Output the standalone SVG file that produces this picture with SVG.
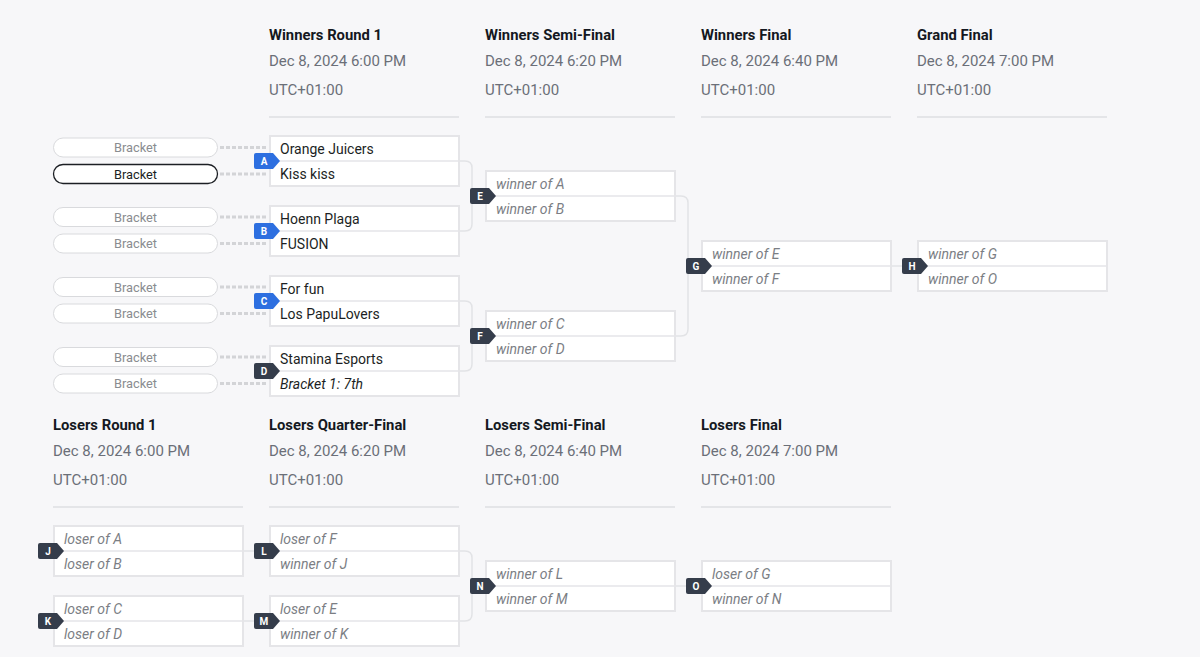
<svg xmlns="http://www.w3.org/2000/svg" xmlns:xlink="http://www.w3.org/1999/xlink" width="1200" height="657" viewBox="0 0 1200 657">
<style>
.bg{fill:#f7f7f9}
.title{font-family:Roboto,"Liberation Sans",sans-serif;font-size:14.8px;font-weight:bold;fill:#141821}
.sub{font-family:Roboto,"Liberation Sans",sans-serif;font-size:15px;fill:#6b6f78}
.hline{stroke:#dedfe2;stroke-width:1.5}
.box{fill:#ffffff;stroke:#e5e5e8;stroke-width:2}
.div{stroke:#e5e5e8;stroke-width:1.5}
.team{font-family:Roboto,"Liberation Sans",sans-serif;font-size:14px;fill:#1c1f24}
.ph{font-family:Roboto,"Liberation Sans",sans-serif;font-size:14px;font-style:italic;fill:#7b7e84}
.phd{font-family:Roboto,"Liberation Sans",sans-serif;font-size:14px;font-style:italic;fill:#1c1f24}
.bd{fill:#353d4b}
.bb{fill:#2d6fe0}
.bl{font-family:Roboto,"Liberation Sans",sans-serif;font-size:10px;font-weight:bold;fill:#ffffff;text-anchor:middle}
.pill{fill:#ffffff;stroke:#d9dadd;stroke-width:1}
.pillh{fill:#ffffff;stroke:#1c1f24;stroke-width:1.3}
.pt{font-family:Roboto,"Liberation Sans",sans-serif;font-size:12.8px;fill:#8a8c90;text-anchor:middle}
.pth{font-family:Roboto,"Liberation Sans",sans-serif;font-size:12.8px;fill:#1c1f24;text-anchor:middle}
.dash{stroke:#d3d4d7;stroke-width:3;stroke-dasharray:4 2;fill:none}
.conn{stroke:#e2e3e6;stroke-width:1.5;fill:none}
</style>
<defs>
<path id="badge" d="M2,-8 H19 L26,0 L19,8 H2 Q0,8 0,6 V-6 Q0,-8 2,-8 Z"/>
</defs>
<rect class="bg" x="0" y="0" width="1200" height="657"/>

<g id="headers">
<text class="title" x="269" y="39.5">Winners Round 1</text>
<text class="sub" x="269" y="65.5">Dec 8, 2024 6:00 PM</text>
<text class="sub" x="269" y="95">UTC+01:00</text>
<line class="hline" x1="269" y1="117" x2="459" y2="117"/>
<text class="title" x="485" y="39.5">Winners Semi-Final</text>
<text class="sub" x="485" y="65.5">Dec 8, 2024 6:20 PM</text>
<text class="sub" x="485" y="95">UTC+01:00</text>
<line class="hline" x1="485" y1="117" x2="675" y2="117"/>
<text class="title" x="701" y="39.5">Winners Final</text>
<text class="sub" x="701" y="65.5">Dec 8, 2024 6:40 PM</text>
<text class="sub" x="701" y="95">UTC+01:00</text>
<line class="hline" x1="701" y1="117" x2="891" y2="117"/>
<text class="title" x="917" y="39.5">Grand Final</text>
<text class="sub" x="917" y="65.5">Dec 8, 2024 7:00 PM</text>
<text class="sub" x="917" y="95">UTC+01:00</text>
<line class="hline" x1="917" y1="117" x2="1107" y2="117"/>

<text class="title" x="53" y="429.5">Losers Round 1</text>
<text class="sub" x="53" y="455.5">Dec 8, 2024 6:00 PM</text>
<text class="sub" x="53" y="485">UTC+01:00</text>
<line class="hline" x1="53" y1="507" x2="243" y2="507"/>
<text class="title" x="269" y="429.5">Losers Quarter-Final</text>
<text class="sub" x="269" y="455.5">Dec 8, 2024 6:20 PM</text>
<text class="sub" x="269" y="485">UTC+01:00</text>
<line class="hline" x1="269" y1="507" x2="459" y2="507"/>
<text class="title" x="485" y="429.5">Losers Semi-Final</text>
<text class="sub" x="485" y="455.5">Dec 8, 2024 6:40 PM</text>
<text class="sub" x="485" y="485">UTC+01:00</text>
<line class="hline" x1="485" y1="507" x2="675" y2="507"/>
<text class="title" x="701" y="429.5">Losers Final</text>
<text class="sub" x="701" y="455.5">Dec 8, 2024 7:00 PM</text>
<text class="sub" x="701" y="485">UTC+01:00</text>
<line class="hline" x1="701" y1="507" x2="891" y2="507"/>
</g>

<g id="connectors">
<line class="dash" x1="220" y1="147.5" x2="268" y2="147.5"/>
<line class="dash" x1="220" y1="174" x2="268" y2="174"/>
<line class="dash" x1="220" y1="217" x2="268" y2="217"/>
<line class="dash" x1="220" y1="243.5" x2="268" y2="243.5"/>
<line class="dash" x1="220" y1="287" x2="268" y2="287"/>
<line class="dash" x1="220" y1="313.5" x2="268" y2="313.5"/>
<line class="dash" x1="220" y1="357" x2="268" y2="357"/>
<line class="dash" x1="220" y1="383.5" x2="268" y2="383.5"/>
<path class="conn" d="M459,161 H465 Q472,161 472,168 V224 Q472,231 465,231 H459"/>
<path class="conn" d="M459,301 H465 Q472,301 472,308 V364 Q472,371 465,371 H459"/>
<path class="conn" d="M675,196 H681 Q688,196 688,203 V329 Q688,336 681,336 H675"/>
<line class="conn" x1="891" y1="266" x2="903" y2="266"/>
<line class="conn" x1="243" y1="551" x2="255" y2="551"/>
<line class="conn" x1="243" y1="621" x2="255" y2="621"/>
<path class="conn" d="M459,551 H465 Q472,551 472,558 V614 Q472,621 465,621 H459"/>
<line class="conn" x1="675" y1="586" x2="687" y2="586"/>
</g>

<g id="pills">
<rect class="pill" x="53.5" y="138" width="164" height="19" rx="9.5"/>
<text class="pt" x="135.5" y="152">Bracket</text>
<rect class="pillh" x="53.5" y="164.5" width="164" height="19" rx="9.5"/>
<text class="pth" x="135.5" y="178.5">Bracket</text>
<rect class="pill" x="53.5" y="207.5" width="164" height="19" rx="9.5"/>
<text class="pt" x="135.5" y="221.5">Bracket</text>
<rect class="pill" x="53.5" y="234" width="164" height="19" rx="9.5"/>
<text class="pt" x="135.5" y="248">Bracket</text>
<rect class="pill" x="53.5" y="277.5" width="164" height="19" rx="9.5"/>
<text class="pt" x="135.5" y="291.5">Bracket</text>
<rect class="pill" x="53.5" y="304" width="164" height="19" rx="9.5"/>
<text class="pt" x="135.5" y="318">Bracket</text>
<rect class="pill" x="53.5" y="347.5" width="164" height="19" rx="9.5"/>
<text class="pt" x="135.5" y="361.5">Bracket</text>
<rect class="pill" x="53.5" y="374" width="164" height="19" rx="9.5"/>
<text class="pt" x="135.5" y="388">Bracket</text>
</g>

<g id="match-A">
<rect class="box" x="270" y="136" width="189" height="50"/>
<line class="div" x1="270" y1="161" x2="459" y2="161"/>
<text class="team" x="280" y="153.5">Orange Juicers</text>
<text class="team" x="280" y="178.5">Kiss kiss</text>
<use xlink:href="#badge" href="#badge" class="bb" x="254" y="161"/>
<text class="bl" x="264" y="164.6">A</text>
</g>
<g id="match-B">
<rect class="box" x="270" y="206" width="189" height="50"/>
<line class="div" x1="270" y1="231" x2="459" y2="231"/>
<text class="team" x="280" y="223.5">Hoenn Plaga</text>
<text class="team" x="280" y="248.5">FUSION</text>
<use xlink:href="#badge" href="#badge" class="bb" x="254" y="231"/>
<text class="bl" x="264" y="234.6">B</text>
</g>
<g id="match-C">
<rect class="box" x="270" y="276" width="189" height="50"/>
<line class="div" x1="270" y1="301" x2="459" y2="301"/>
<text class="team" x="280" y="293.5">For fun</text>
<text class="team" x="280" y="318.5">Los PapuLovers</text>
<use xlink:href="#badge" href="#badge" class="bb" x="254" y="301"/>
<text class="bl" x="264" y="304.6">C</text>
</g>
<g id="match-D">
<rect class="box" x="270" y="346" width="189" height="50"/>
<line class="div" x1="270" y1="371" x2="459" y2="371"/>
<text class="team" x="280" y="363.5">Stamina Esports</text>
<text class="phd" x="280" y="388.5">Bracket 1: 7th</text>
<use xlink:href="#badge" href="#badge" class="bd" x="254" y="371"/>
<text class="bl" x="264" y="374.6">D</text>
</g>
<g id="match-E">
<rect class="box" x="486" y="171" width="189" height="50"/>
<line class="div" x1="486" y1="196" x2="675" y2="196"/>
<text class="ph" x="496" y="188.5">winner of A</text>
<text class="ph" x="496" y="213.5">winner of B</text>
<use xlink:href="#badge" href="#badge" class="bd" x="470" y="196"/>
<text class="bl" x="480" y="199.6">E</text>
</g>
<g id="match-F">
<rect class="box" x="486" y="311" width="189" height="50"/>
<line class="div" x1="486" y1="336" x2="675" y2="336"/>
<text class="ph" x="496" y="328.5">winner of C</text>
<text class="ph" x="496" y="353.5">winner of D</text>
<use xlink:href="#badge" href="#badge" class="bd" x="470" y="336"/>
<text class="bl" x="480" y="339.6">F</text>
</g>
<g id="match-G">
<rect class="box" x="702" y="241" width="189" height="50"/>
<line class="div" x1="702" y1="266" x2="891" y2="266"/>
<text class="ph" x="712" y="258.5">winner of E</text>
<text class="ph" x="712" y="283.5">winner of F</text>
<use xlink:href="#badge" href="#badge" class="bd" x="686" y="266"/>
<text class="bl" x="696" y="269.6">G</text>
</g>
<g id="match-H">
<rect class="box" x="918" y="241" width="189" height="50"/>
<line class="div" x1="918" y1="266" x2="1107" y2="266"/>
<text class="ph" x="928" y="258.5">winner of G</text>
<text class="ph" x="928" y="283.5">winner of O</text>
<use xlink:href="#badge" href="#badge" class="bd" x="902" y="266"/>
<text class="bl" x="912" y="269.6">H</text>
</g>
<g id="match-J">
<rect class="box" x="54" y="526" width="189" height="50"/>
<line class="div" x1="54" y1="551" x2="243" y2="551"/>
<text class="ph" x="64" y="543.5">loser of A</text>
<text class="ph" x="64" y="568.5">loser of B</text>
<use xlink:href="#badge" href="#badge" class="bd" x="38" y="551"/>
<text class="bl" x="48" y="554.6">J</text>
</g>
<g id="match-K">
<rect class="box" x="54" y="596" width="189" height="50"/>
<line class="div" x1="54" y1="621" x2="243" y2="621"/>
<text class="ph" x="64" y="613.5">loser of C</text>
<text class="ph" x="64" y="638.5">loser of D</text>
<use xlink:href="#badge" href="#badge" class="bd" x="38" y="621"/>
<text class="bl" x="48" y="624.6">K</text>
</g>
<g id="match-L">
<rect class="box" x="270" y="526" width="189" height="50"/>
<line class="div" x1="270" y1="551" x2="459" y2="551"/>
<text class="ph" x="280" y="543.5">loser of F</text>
<text class="ph" x="280" y="568.5">winner of J</text>
<use xlink:href="#badge" href="#badge" class="bd" x="254" y="551"/>
<text class="bl" x="264" y="554.6">L</text>
</g>
<g id="match-M">
<rect class="box" x="270" y="596" width="189" height="50"/>
<line class="div" x1="270" y1="621" x2="459" y2="621"/>
<text class="ph" x="280" y="613.5">loser of E</text>
<text class="ph" x="280" y="638.5">winner of K</text>
<use xlink:href="#badge" href="#badge" class="bd" x="254" y="621"/>
<text class="bl" x="264" y="624.6">M</text>
</g>
<g id="match-N">
<rect class="box" x="486" y="561" width="189" height="50"/>
<line class="div" x1="486" y1="586" x2="675" y2="586"/>
<text class="ph" x="496" y="578.5">winner of L</text>
<text class="ph" x="496" y="603.5">winner of M</text>
<use xlink:href="#badge" href="#badge" class="bd" x="470" y="586"/>
<text class="bl" x="480" y="589.6">N</text>
</g>
<g id="match-O">
<rect class="box" x="702" y="561" width="189" height="50"/>
<line class="div" x1="702" y1="586" x2="891" y2="586"/>
<text class="ph" x="712" y="578.5">loser of G</text>
<text class="ph" x="712" y="603.5">winner of N</text>
<use xlink:href="#badge" href="#badge" class="bd" x="686" y="586"/>
<text class="bl" x="696" y="589.6">O</text>
</g>
</svg>
